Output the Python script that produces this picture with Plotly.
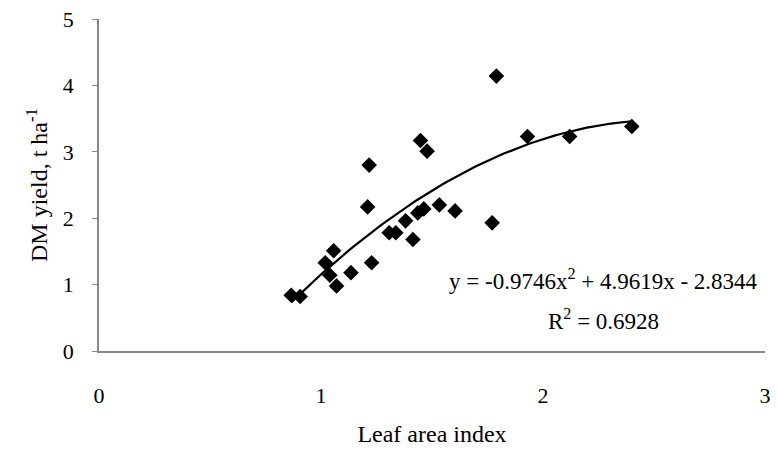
import numpy as np
import plotly.graph_objects as go

lai = [0.866, 0.906, 1.019, 1.057, 1.04, 1.07, 1.135, 1.228, 1.21, 1.217,
       1.307, 1.337, 1.381, 1.414, 1.436, 1.463, 1.448, 1.478, 1.533, 1.604,
       1.771, 1.79, 1.93, 2.12, 2.40]
dm_yield = [0.84, 0.82, 1.33, 1.51, 1.14, 0.98, 1.18, 1.33, 2.17, 2.80,
            1.78, 1.78, 1.96, 1.68, 2.08, 2.14, 3.17, 3.01, 2.20, 2.11,
            1.93, 4.14, 3.23, 3.23, 3.38]
coef = [-0.9746, 4.9619, -2.8344]
eq_text = "y = -0.9746x<sup>2</sup> + 4.9619x - 2.8344"
r2_text = "R<sup>2</sup> = 0.6928"
x_ticks = [0, 1, 2, 3]
y_ticks = [0, 1, 2, 3, 4, 5]

xf = np.linspace(min(lai), max(lai), 100)
yf = np.polyval(coef, xf)

FONT = "Liberation Serif"

fig = go.Figure()
fig.add_trace(go.Scatter(x=xf, y=yf, mode="lines",
                         line=dict(color="black", width=2.2), hoverinfo="skip"))
fig.add_trace(go.Scatter(x=lai, y=dm_yield, mode="markers",
                         marker=dict(symbol="diamond", size=12, color="black")))

fig.add_annotation(x=2.272, y=1.08, xref="x", yref="y", text=eq_text,
                   showarrow=False, font=dict(family=FONT, size=23, color="black"))
fig.add_annotation(x=2.272, y=0.48, xref="x", yref="y", text=r2_text,
                   showarrow=False, font=dict(family=FONT, size=23, color="black"))

fig.update_layout(
    width=778, height=450,
    margin=dict(l=99, r=7, t=18, b=99),
    paper_bgcolor="white", plot_bgcolor="white",
    showlegend=False,
    font=dict(family=FONT, size=22, color="black"),
    xaxis=dict(range=[0, 3], tickvals=x_ticks, showgrid=False, zeroline=False,
               showline=True, linecolor="#888", linewidth=1.5,
               ticks="", ticklabelstandoff=24,
               title=dict(text="Leaf area index", standoff=18,
                          font=dict(family=FONT, size=24))),
    yaxis=dict(range=[0, 5], tickvals=y_ticks, showgrid=False, zeroline=False,
               showline=True, linecolor="#888", linewidth=1.5,
               ticks="outside", ticklen=5, tickcolor="#888",
               ticklabelstandoff=14,
               title=dict(text="DM yield, t ha<sup>-1</sup>", standoff=8,
                          font=dict(family=FONT, size=24))),
)

fig.write_html("out.html")
